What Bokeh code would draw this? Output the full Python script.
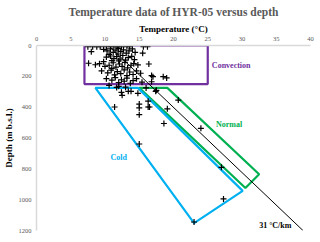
from bokeh.plotting import figure
from bokeh.models import Range1d, FixedTicker, Label
from bokeh.embed import file_html
from bokeh.resources import INLINE

# ---- data ----
temp = [7.5, 8.2, 8.8, 9.3, 10.2, 10.8, 11.3, 11.8, 12.4, 13.2, 13.6, 15.6, 16.2,
        8.0, 9.8, 10.3, 10.8, 11.2, 11.6, 12.0, 12.3, 12.7, 13.1, 13.5, 14.0, 14.4, 15.5, 10.6, 11.9,
        10.2, 10.8, 11.3, 11.7, 12.2, 12.6, 13.0, 13.4, 13.9, 14.3, 11.0, 12.0,
        7.6, 8.6, 9.2, 9.8, 10.0, 10.6, 11.2, 11.6, 12.1, 12.5, 12.9, 13.3, 13.8, 14.2, 14.8, 16.4, 11.0,
        9.5, 10.4, 10.9, 11.4, 11.8, 12.3, 12.8, 13.2, 13.6, 14.1, 14.6, 15.2, 16.8, 17.0, 18.5,
        10.2, 11.0, 11.5, 12.0, 12.4, 12.8, 13.2, 13.7, 14.1, 14.6, 15.4, 16.8, 19.0,
        10.6, 11.7, 12.4, 12.5, 13.4, 13.8, 14.8, 17.4, 17.5, 11.4, 15.0, 15.0, 16.3, 16.3, 16.5,
        15.0, 19.1, 18.6, 20.7, 15.0, 24.0, 27.0, 27.3, 23.0, 16.0, 12.0, 13.0]
depth = [8, 8, 8, 8, 8, 8, 8, 8, 8, 8, 8, 8, 8,
         40, 25, 35, 22, 45, 30, 18, 40, 28, 50, 35, 22, 45, 50, 58, 55,
         75, 68, 85, 72, 88, 65, 95, 78, 70, 92, 98, 100,
         115, 125, 118, 105, 135, 128, 112, 140, 120, 135, 110, 145, 128, 118, 126, 120, 148,
         165, 178, 160, 190, 170, 182, 158, 195, 172, 188, 165, 180, 195, 202, 202,
         215, 225, 208, 240, 222, 232, 212, 245, 228, 215, 238, 235, 210,
         259, 272, 304, 323, 297, 297, 310, 297, 291, 399, 380, 405, 361, 399, 399,
         449, 411, 506, 354, 639, 537, 790, 995, 1145, 275, 265, 270]

conv_x = [7, 25, 25, 7]
conv_y = [0, 0, 250, 250]
normal_x = [15, 19.1, 32.5, 30.5]
normal_y = [275, 275, 835, 924]
cold_x = [8.6, 14.8, 30.1, 23]
cold_y = [275, 275, 943, 1152]
grad_x = [10.5, 38.9]
grad_y = [0, 1200]
x_ticks = [0, 5, 10, 15, 20, 25, 30, 35, 40]
y_ticks = [0, 200, 400, 600, 800, 1000, 1200]

SERIF = "Liberation Serif"
PURPLE = "#7030A0"
GREEN = "#00B050"
BLUE = "#00B0F0"

p = figure(frame_width=274, frame_height=185, x_range=Range1d(0, 40), y_range=Range1d(1200, 0),
           x_axis_location="above", output_backend="svg", toolbar_location=None,
           min_border_left=26, min_border_right=4, min_border_top=30, min_border_bottom=4)

p.title.text = "Temperature data of HYR-05 versus depth"
p.title.align = "center"
p.title.text_font = SERIF
p.title.text_font_size = "11.5px"
p.title.text_color = "#595959"
p.title.text_font_style = "bold"
p.title.standoff = 6

p.grid.visible = False
p.outline_line_color = None

for ax in (p.xaxis[0], p.yaxis[0]):
    ax.axis_line_color = "#D9D9D9"
    ax.axis_line_width = 1.5
    ax.major_tick_line_color = None
    ax.minor_tick_line_color = None
    ax.major_tick_out = 0
    ax.major_tick_in = 0
    ax.minor_tick_out = 0
    ax.minor_tick_in = 0
    ax.major_label_text_font = SERIF
    ax.major_label_text_font_size = "6.5px"
    ax.major_label_text_color = "#595959"
    ax.axis_label_text_font = SERIF
    ax.axis_label_text_font_size = "9px"
    ax.axis_label_text_font_style = "bold"
    ax.axis_label_text_color = "black"

p.xaxis[0].ticker = FixedTicker(ticks=x_ticks)
p.yaxis[0].ticker = FixedTicker(ticks=y_ticks)
p.xaxis[0].axis_label = "Temperature (°C)"
p.yaxis[0].axis_label = "Depth (m b.s.l.)"
p.xaxis[0].major_label_standoff = 5
p.xaxis[0].axis_label_standoff = 0
p.yaxis[0].major_label_standoff = 5
p.yaxis[0].axis_label_standoff = 2

p.patch(conv_x, conv_y, fill_color=None, line_color=PURPLE, line_width=2.2)
p.patch(normal_x, normal_y, fill_color=None, line_color=GREEN, line_width=2.2)
p.patch(cold_x, cold_y, fill_color=None, line_color=BLUE, line_width=2.2)
p.line(grad_x, grad_y, line_color="black", line_width=1)
p.scatter(temp, depth, marker="cross", size=6, line_color="black", line_width=1.2)

for x, y, t, c in [(25.6, 127, "Convection", PURPLE), (26.2, 512, "Normal", GREEN),
                   (10.8, 728, "Cold", BLUE), (32.5, 1165, "31 °C/km", "black")]:
    p.add_layout(Label(x=x, y=y, text=t, text_color=c, text_font=SERIF,
                       text_font_size="8px", text_font_style="bold",
                       text_baseline="middle", text_align="left"))

open("out.html", "w").write(file_html(p, INLINE))
